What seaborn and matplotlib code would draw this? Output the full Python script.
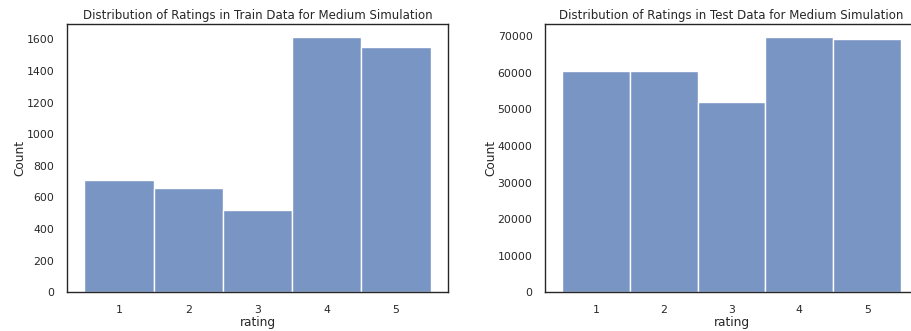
import numpy as np
import pandas as pd
import seaborn as sns
import matplotlib.pyplot as plt

# counts per rating
ratings = [1, 2, 3, 4, 5]
train_counts = [713, 662, 520, 1615, 1552]
test_counts = [60500, 60500, 52050, 69750, 69300]

train = pd.DataFrame({"rating": ratings, "n": train_counts})
test = pd.DataFrame({"rating": ratings, "n": test_counts})

sns.set_theme(style="white", rc={"axes.linewidth": 1.0})
plt.rcParams['font.family'] = ['DejaVu Sans']

W, H = 911, 331
fig = plt.figure(figsize=(W / 100, H / 100), dpi=100)

ax1 = fig.add_axes([67 / W, 38.7 / H, 381 / W, 268 / H])
ax2 = fig.add_axes([545 / W, 38.7 / H, 373 / W, 268 / H])

sns.histplot(data=train, x="rating", weights="n", discrete=True, ax=ax1)
sns.histplot(data=test, x="rating", weights="n", discrete=True, ax=ax2)

ax1.set_title("Distribution of Ratings in Train Data for Medium Simulation", fontsize=8.5, pad=4)
ax2.set_title("Distribution of Ratings in Test Data for Medium Simulation", fontsize=8.5, pad=4)

for ax in (ax1, ax2):
    ax.set_xlabel("rating", fontsize=8.7, labelpad=1)
    ax.set_ylabel("Count", fontsize=8.7, labelpad=0)
    ax.tick_params(labelsize=7.8, pad=3)
    ax.set_xticks(ratings)

fig.savefig("out.png", dpi=100)
